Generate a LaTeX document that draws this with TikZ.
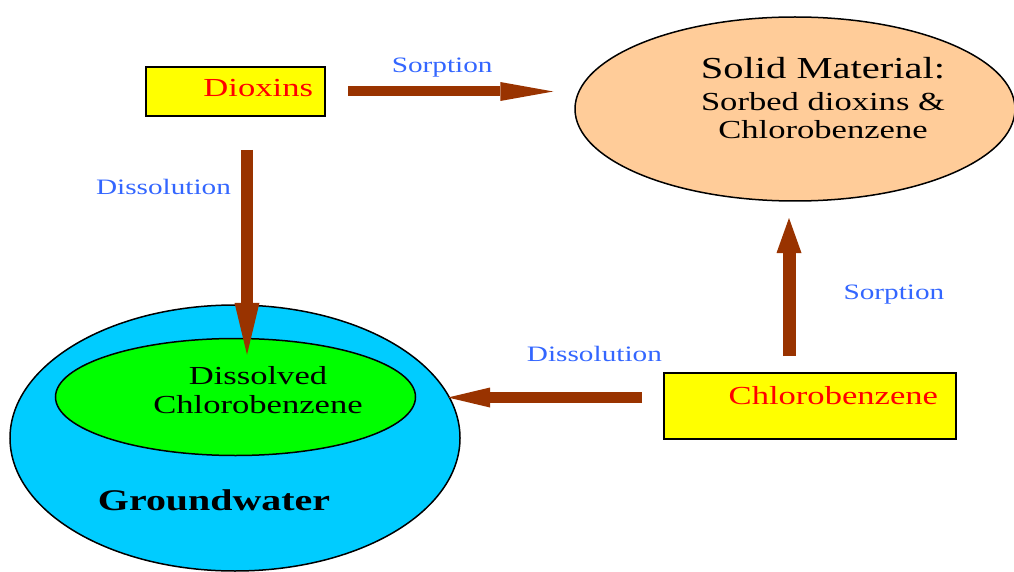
\documentclass[tikz,border=0pt]{standalone}
\usepackage{fontspec}
\setmainfont{Liberation Serif}[FakeStretch=1.33]
\usetikzlibrary{arrows.meta,positioning,shapes.geometric,calc}
\definecolor{flowbrown}{HTML}{993300}
\definecolor{tagblue}{HTML}{3366FF}
\definecolor{boxyellow}{HTML}{FFFF00}
\definecolor{solidpeach}{HTML}{FFCC99}
\definecolor{watercyan}{HTML}{00CCFF}
\definecolor{dissolvedgreen}{HTML}{00FF00}

\begin{document}
\begin{tikzpicture}[
    x=1pt, y=-1pt,
    box/.style={draw, line width=2pt, fill=boxyellow, text=red,
                font=\fontsize{26}{30}\selectfont, align=right,
                inner ysep=0pt},
    oval/.style={ellipse, draw, line width=1.5pt, inner sep=0pt},
    flow/.style={draw=flowbrown},
    tag/.style={text=tagblue, font=\fontsize{22}{24}\selectfont,
                inner sep=0pt, text height=16pt, text depth=5pt},
    inner/.style={inner sep=0pt, align=center},
  ]

  \useasboundingbox (0,0) rectangle (1014,572);

  % boxes
  \node[box, minimum width=179pt, minimum height=49pt, text width=155pt,
        inner xsep=12pt, text height=19pt, text depth=8pt]
        (dioxins) at (235.5,91.5) {Dioxins};

  \node[box, minimum width=292pt, minimum height=66pt, text width=256pt,
        inner xsep=18pt, text height=19pt, text depth=23pt]
        (chloro) at (810,406) {Chlorobenzene};

  % ovals
  \node[oval, fill=solidpeach, minimum width=440pt, minimum height=184pt]
        (solid) at (795,109) {};
  \node[inner, font=\fontsize{26}{28}\selectfont] (solidtext) at (823,97.6)
    {\fontsize{30.5}{32}\selectfont Solid Material:\\[4pt]
     Sorbed dioxins \&\\Chlorobenzene};

  \node[oval, fill=watercyan, minimum width=450pt, minimum height=266pt]
        (ground) at (235,438) {};
  \node[oval, fill=dissolvedgreen, minimum width=360pt, minimum height=117pt]
        (dissolved) at (235.5,397) {};
  \node[inner, font=\fontsize{26}{29}\selectfont] (dissolvedtext) at (258,390.6)
    {Dissolved\\Chlorobenzene};
  \node[inner, anchor=base, font=\bfseries\fontsize{30}{32}\selectfont]
        (groundtext) at (214,510) {Groundwater};

  % arrows
  \draw[flow, line width=10pt,
        -{Triangle[length=53pt, width=19pt, line width=0pt]},
        shorten <=22pt, shorten >=21pt]
    (dioxins.east) -- (dioxins.east -| solid.west)
    node[tag, above=9pt, pos=0.468] (sorbtop) {Sorption};

  \draw[flow, line width=12pt,
        -{Triangle[length=52pt, width=25pt, line width=0pt]},
        shorten <=33pt, shorten >=-17pt]
    ([xshift=11.5pt]dioxins.south) coordinate (downstart)
    -- (downstart |- dissolved.north)
    node[tag, left=10pt, pos=0.328] (dissolveleft) {Dissolution};

  \draw[flow, line width=11pt,
        -{Triangle[length=42pt, width=20pt, line width=0pt]},
        shorten <=21pt, shorten >=-12.75pt]
    ([yshift=8.5pt]chloro.west) coordinate (leftstart)
    -- (leftstart -| ground.east)
    node[tag, above=25.5pt, pos=0.339] (dissolvemid) {Dissolution};

  \draw[flow, line width=13pt,
        -{Triangle[length=35pt, width=25pt, line width=0pt]},
        shorten <=16pt, shorten >=16.25pt]
    ([xshift=-21pt]chloro.north) coordinate (upstart)
    -- (upstart |- solid.south)
    node[tag, right=48pt, pos=0.461] (sorbright) {Sorption};

\end{tikzpicture}
\end{document}
